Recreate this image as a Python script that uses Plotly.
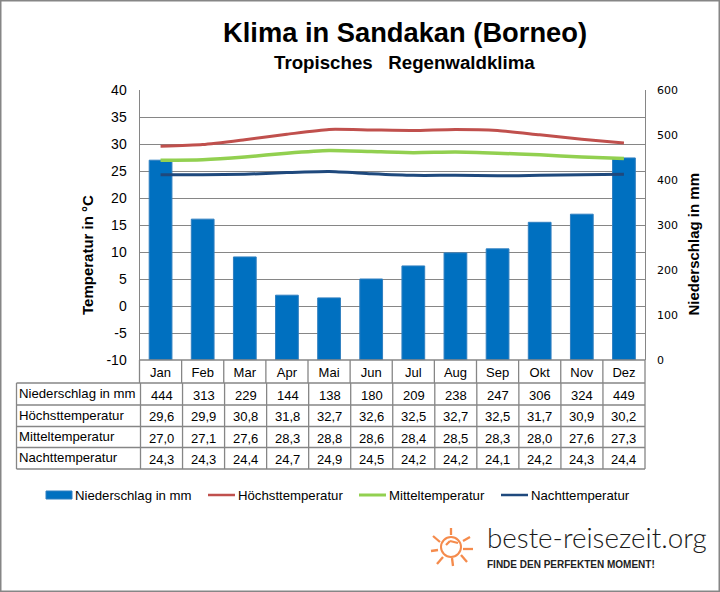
import plotly.graph_objects as go

W = 720
H = 592

months = ["Jan", "Feb", "Mar", "Apr", "Mai", "Jun", "Jul", "Aug", "Sep", "Okt", "Nov", "Dez"]
niederschlag = [444, 313, 229, 144, 138, 180, 209, 238, 247, 306, 324, 449]
hoechst = [29.6, 29.9, 30.8, 31.8, 32.7, 32.6, 32.5, 32.7, 32.5, 31.7, 30.9, 30.2]
mittel = [27.0, 27.1, 27.6, 28.3, 28.8, 28.6, 28.4, 28.5, 28.3, 28.0, 27.6, 27.3]
nacht = [24.3, 24.3, 24.4, 24.7, 24.9, 24.5, 24.2, 24.2, 24.1, 24.2, 24.3, 24.4]
temp_ticks = [-10, -5, 0, 5, 10, 15, 20, 25, 30, 35, 40]
temp_labels = ["-10", "-5", "0", "5", "10", "15", "20", "25", "30", "35", "40"]

GRID = "#868686"
FONT = "Liberation Sans"
BAR = "#0070c0"
RED = "#c0504d"
GREEN = "#92d050"
NAVY = "#1f497d"
SUN = "#f58b4c"

def px(x):
    return x / W

def py(y):
    return 1 - y / H

def de(v):
    return f"{v:.1f}".replace(".", ",")

fig = go.Figure()

fig.add_trace(go.Bar(x=months, y=niederschlag, name="Niederschlag in mm", yaxis="y",
                     width=0.54, marker=dict(color=BAR, line=dict(color="#2f7fc0", width=1))))
for name, vals, col, w in [("Höchsttemperatur", hoechst, RED, 3),
                           ("Mitteltemperatur", mittel, GREEN, 3.5),
                           ("Nachttemperatur", nacht, NAVY, 3)]:
    fig.add_trace(go.Scatter(x=months, y=vals, name=name, yaxis="y2", mode="lines",
                             line=dict(color=col, width=w, shape="spline", smoothing=0.6)))

shapes = []
ann = []

def line(x0, y0, x1, y1, color=GRID, width=1.3):
    shapes.append(dict(type="line", xref="paper", yref="paper", x0=px(x0), y0=py(y0), x1=px(x1), y1=py(y1),
                       line=dict(color=color, width=width)))

def text(x, y, s, size=12, anchor="center", color="#000000", family=FONT, bold=False, angle=0, weight=None):
    f = dict(size=size, color=color, family=family)
    if weight:
        f["weight"] = weight
    ann.append(dict(xref="paper", yref="paper", x=px(x), y=py(y), text=f"<b>{s}</b>" if bold else s,
                    showarrow=False, xanchor=anchor, yanchor="middle", textangle=angle, font=f))

# image frame
shapes.append(dict(type="rect", xref="paper", yref="paper", x0=0, y0=0, x1=1, y1=1,
                   line=dict(color="#868686", width=3)))

# month row below the plot
col_w = (645 - 139.5) / 12
for i in range(13):
    line(139.5 + i * col_w, 360, 139.5 + i * col_w, 383)
line(139.5, 360, 645, 360)

# data table
row_y = [383, 405, 426.5, 447.5, 469]
table_left = 16.5
tab_x = [140.5 + i * (645 - 140.5) / 12 for i in range(13)]
for y in row_y:
    line(table_left, y, 645, y)
line(table_left, 383, table_left, 469)
for x in tab_x:
    line(x, 383, x, 469)

rows = [("Niederschlag in mm", [str(v) for v in niederschlag]),
        ("Höchsttemperatur", [de(v) for v in hoechst]),
        ("Mitteltemperatur", [de(v) for v in mittel]),
        ("Nachttemperatur", [de(v) for v in nacht])]
for r, (label, cells) in enumerate(rows):
    ymid = (row_y[r] + row_y[r + 1]) / 2
    text(17, ymid - 0.5, label, size=13.2, anchor="left")
    for i, c in enumerate(cells):
        text((tab_x[i] + tab_x[i + 1]) / 2, ymid + 1, c, size=13)

# titles
text(405, 33, "Klima in Sandakan (Borneo)", size=27.3, bold=True)
text(404, 63, "Tropisches&nbsp;&nbsp; Regenwaldklima", size=18.7, bold=True)
text(88, 255, "Temperatur in °C", size=15, bold=True, angle=-90)
text(693, 244.5, "Niederschlag in mm", size=15, bold=True, angle=-90)

# legend drawn by hand, the wide bar swatch is not available in the plotly legend
shapes.append(dict(type="rect", xref="paper", yref="paper", x0=px(46), x1=px(72), y0=py(499), y1=py(491),
                   fillcolor=BAR, line=dict(color="#2f7fc0", width=1)))
text(73, 495, "Niederschlag in mm", size=13.2, anchor="left")
for x0, col, name, w in [(208, RED, "Höchsttemperatur", 2.5), (359, GREEN, "Mitteltemperatur", 3),
                         (501, NAVY, "Nachttemperatur", 2.5)]:
    line(x0, 495, x0 + 27, 495, color=col, width=w)
    text(x0 + 28, 495, name, size=13.2, anchor="left")

# logo
sun_x, sun_y = 451, 547
shapes.append(dict(type="circle", xref="paper", yref="paper", x0=px(sun_x - 10), x1=px(sun_x + 10),
                   y0=py(sun_y + 10), y1=py(sun_y - 10), line=dict(color=SUN, width=2)))
for x0, y0, x1, y1 in [(451, 528, 451, 535), (463, 541, 470, 537), (463, 549, 473, 549), (461, 555, 467, 562),
                       (452, 558, 453, 566), (443, 557, 437, 564), (431, 551, 438, 550), (433, 536, 440, 542),
                       (446, 545, 450, 541), (450, 541, 458, 543)]:
    line(x0, y0, x1, y1, color=SUN, width=2.3)
text(485, 537, "beste-reisezeit.org", size=27.8, anchor="left", family="Lato", color="#1a1a1a", weight=300)
text(485, 564, "FINDE DEN PERFEKTEN MOMENT!", size=10, anchor="left", bold=True, color="#222222")

fig.update_layout(
    width=W, height=H, margin=dict(l=0, r=0, t=0, b=0, autoexpand=False),
    paper_bgcolor="white", plot_bgcolor="white",
    font=dict(family=FONT, size=12, color="#000000"),
    showlegend=False,
    shapes=shapes, annotations=ann,
    xaxis=dict(domain=[px(139.5), px(645)], type="category", categoryorder="array", categoryarray=months,
               anchor="y", showgrid=False, ticks="", showline=False, tickfont=dict(size=13),
               ticklabelstandoff=3, automargin=False),
    yaxis=dict(domain=[py(360), py(90)], range=[0, 600], dtick=100, side="right", anchor="x",
               showgrid=False, zeroline=False, showline=False, ticks="", automargin=False,
               tickfont=dict(size=11, family="DejaVu Sans"), ticklabelstandoff=11),
    yaxis2=dict(domain=[py(360), py(90)], range=[-10, 40], tickmode="array", tickvals=temp_ticks,
                ticktext=temp_labels, side="left", overlaying="y", anchor="x", automargin=False,
                showgrid=True, gridcolor=GRID, gridwidth=1.3, zeroline=False, showline=True, linecolor=GRID,
                mirror=True, ticks="", tickfont=dict(size=14), ticklabelstandoff=9),
)

# the default body margin would push the plot off the window
fig.write_html("out.html", config={"displayModeBar": False},
               post_script="document.body.style.margin='0';")
